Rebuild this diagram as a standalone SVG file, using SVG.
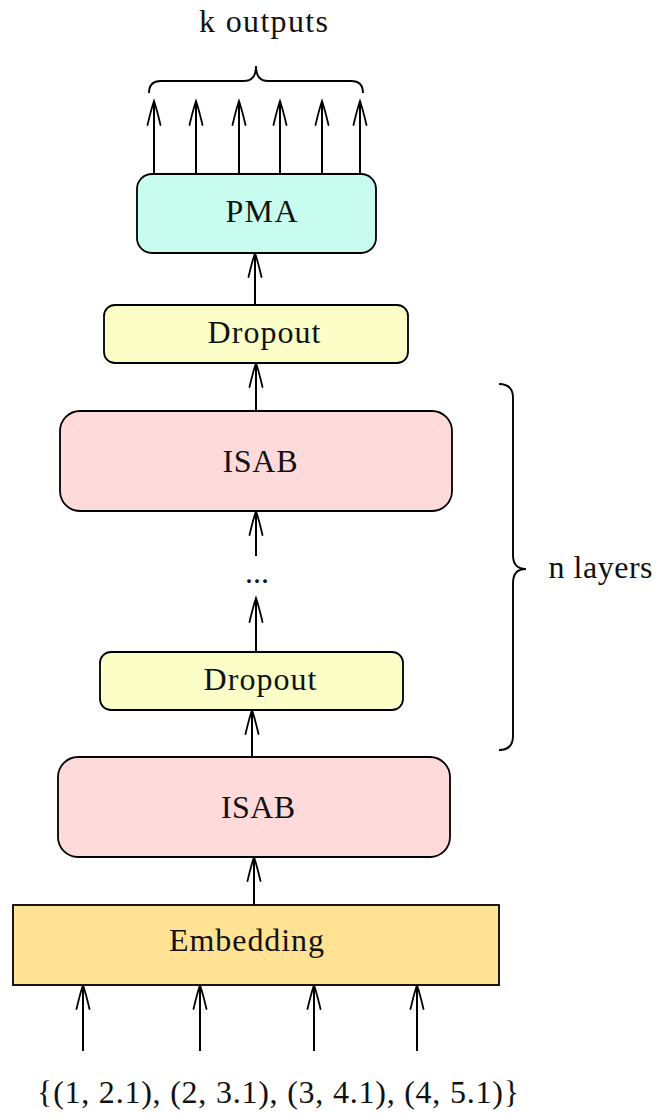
<svg xmlns="http://www.w3.org/2000/svg" width="657" height="1119" viewBox="0 0 657 1119">
<style>
text{font-family:"Liberation Serif","Times New Roman",serif;font-size:32px;fill:#111;text-anchor:middle}
.box{stroke:#000;stroke-width:1.8}
.pma{fill:#c7fcef}
.drop{fill:#fbffc7}
.isab{fill:#ffdadb}
.emb{fill:#ffe294}
.c line{stroke:#000;stroke-width:2;marker-end:url(#to)}
.brace{fill:none;stroke:#000;stroke-width:1.9}
</style>
<defs>
<marker id="to" markerUnits="userSpaceOnUse" viewBox="-28 -10 32 20" refX="0" refY="0" markerWidth="32" markerHeight="20" orient="auto" overflow="visible">
<path d="M-24,-6.5 Q-9,-3 0,0 Q-9,3 -24,6.5" fill="none" stroke="#000" stroke-width="1.8" stroke-linecap="round"/>
</marker>
</defs>
<rect width="657" height="1119" fill="#fff"/>
<g id="connectors" class="c">
<line x1="154" y1="174" x2="154" y2="101"/>
<line x1="196" y1="174" x2="196" y2="101"/>
<line x1="239" y1="174" x2="239" y2="101"/>
<line x1="280" y1="174" x2="280" y2="101"/>
<line x1="322" y1="174" x2="322" y2="101"/>
<line x1="360" y1="174" x2="360" y2="101"/>
<line x1="255" y1="305" x2="255" y2="253"/>
<line x1="256" y1="411" x2="256" y2="363"/>
<line x1="256" y1="556" x2="256" y2="511"/>
<line x1="256" y1="652" x2="256" y2="598"/>
<line x1="252" y1="757" x2="252" y2="710"/>
<line x1="254" y1="905" x2="254" y2="857"/>
<line x1="83" y1="1051" x2="83" y2="985"/>
<line x1="200" y1="1051" x2="200" y2="985"/>
<line x1="314" y1="1051" x2="314" y2="985"/>
<line x1="417" y1="1051" x2="417" y2="985"/>
</g>
<g id="pma"><rect class="box pma" x="137" y="174" width="239" height="79" rx="15"/><text x="261.5" y="222" textLength="72">PMA</text></g>
<g id="dropout2"><rect class="box drop" x="104" y="305" width="304" height="58" rx="11"/><text x="264" y="343" textLength="113">Dropout</text></g>
<g id="isab2"><rect class="box isab" x="60" y="411" width="392" height="100" rx="20"/><text x="260" y="472" textLength="75">ISAB</text></g>
<g id="dots"><text x="257" y="583">...</text></g>
<g id="dropout1"><rect class="box drop" x="100" y="652" width="303" height="58" rx="11"/><text x="260" y="690" textLength="113">Dropout</text></g>
<g id="isab1"><rect class="box isab" x="58" y="757" width="392" height="100" rx="20"/><text x="258" y="818" textLength="74">ISAB</text></g>
<g id="embedding"><rect class="box emb" x="13" y="905" width="486" height="80"/><text x="246.5" y="951" textLength="155">Embedding</text></g>
<g id="outputs-label">
<path class="brace" d="M149,93 Q149,81 161,81 L244,81 Q256,81 256,66 Q256,81 268,81 L351,81 Q363,81 363,93"/>
<text x="263.5" y="32" textLength="129">k outputs</text>
</g>
<g id="layers-label">
<path class="brace" d="M499,384 Q513,384 513,398 L513,555 Q513,569 526,569 Q513,569 513,583 L513,736 Q513,750 499,750"/>
<text x="600.5" y="578" textLength="104">n layers</text>
</g>
<g id="input-label"><text x="278" y="1103" textLength="482">{(1, 2.1), (2, 3.1), (3, 4.1), (4, 5.1)}</text></g>
</svg>
